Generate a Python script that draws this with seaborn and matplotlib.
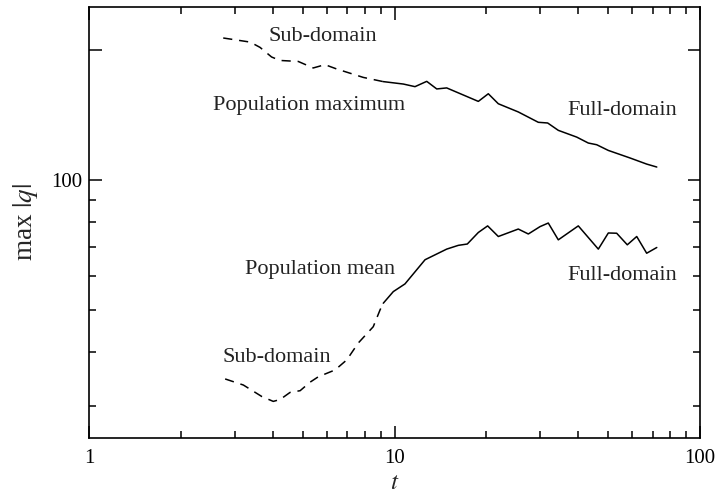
import matplotlib
matplotlib.use("Agg")
import matplotlib.pyplot as plt
from matplotlib.ticker import LogLocator, NullFormatter, FixedLocator, FixedFormatter
import numpy as np
import pandas as pd
import seaborn as sns

# Population maximum of |q|: sub-domain (early) and full-domain (late) runs
max_sub_t = [2.75, 3.37, 3.63, 3.96, 4.22, 4.84, 5.42, 5.92, 6.47, 7.90, 9.17]
max_sub_q = [212.8, 208.2, 202.4, 192.3, 188.8, 187.8, 181.4, 184.6, 180.4, 172.5, 168.7]
max_full_t = [9.17, 10.69, 11.67, 12.75, 13.75, 14.82, 18.81, 20.28, 21.87, 25.42,
              29.56, 31.72, 34.37, 39.49, 43.09, 45.91, 50.11, 59.0, 66.9, 72.2]
max_full_q = [168.7, 166.5, 164.2, 168.9, 162.2, 163.1, 151.8, 158.1, 149.9, 143.5,
              135.8, 135.3, 130.1, 125.5, 121.6, 120.5, 116.9, 112.3, 108.7, 107.0]

# Population mean of |q|
mean_sub_t = [2.79, 3.20, 3.68, 4.01, 4.22, 4.55, 4.91, 5.29, 5.63, 6.39, 6.98,
              7.61, 8.52, 8.97, 9.19]
mean_sub_q = [34.6, 33.5, 31.5, 30.7, 31.0, 32.2, 32.5, 34.0, 35.0, 36.3, 38.3,
              41.9, 45.7, 50.0, 51.8]
mean_full_t = [9.19, 9.91, 10.82, 12.59, 14.82, 16.18, 17.31, 18.81, 20.18, 21.87,
               25.42, 27.42, 29.95, 31.87, 34.37, 39.96, 46.47, 50.11, 53.37, 57.81,
               62.07, 66.9, 72.2]
mean_full_q = [51.8, 55.1, 57.4, 65.3, 69.1, 70.5, 71.0, 75.5, 78.2, 73.9,
               76.9, 74.9, 77.9, 79.4, 72.6, 78.2, 69.1, 75.3, 75.2, 70.7,
               73.9, 67.6, 69.7]

segments = [
    ("max", "sub", max_sub_t, max_sub_q),
    ("max", "full", max_full_t, max_full_q),
    ("mean", "sub", mean_sub_t, mean_sub_q),
    ("mean", "full", mean_full_t, mean_full_q),
]
frames = []
for stat, domain, t, q in segments:
    frames.append(pd.DataFrame({"t": t, "q": q, "stat": stat, "domain": domain}))
df = pd.concat(frames, ignore_index=True)

sns.set_style("ticks")
plt.rcParams["font.family"] = ["Liberation Serif", "DejaVu Serif"]
plt.rcParams["mathtext.fontset"] = "stix"

fig = plt.figure(figsize=(7.19, 4.98), dpi=100)
ax = fig.add_axes([89 / 719, 60.3 / 498, 611 / 719, 430.7 / 498])

for (stat, domain), sub in df.groupby(["stat", "domain"], sort=False):
    sns.lineplot(data=sub, x="t", y="q", ax=ax, color="black", lw=1.1,
                 estimator=None, sort=False,
                 linestyle=(0, (6, 4.5)) if domain == "sub" else "-")

ax.set_xscale("log")
ax.set_yscale("log")
ax.set_xlim(1, 100)
ax.set_ylim(25.3, 251)

ax.xaxis.set_major_locator(FixedLocator([1, 10, 100]))
ax.xaxis.set_major_formatter(FixedFormatter(["1", "10", "100"]))
ax.xaxis.set_minor_locator(LogLocator(base=10, subs=np.arange(2, 10)))
ax.xaxis.set_minor_formatter(NullFormatter())
ax.yaxis.set_major_locator(FixedLocator([100, 200]))
ax.yaxis.set_major_formatter(FixedFormatter(["100", ""]))
ax.yaxis.set_minor_locator(FixedLocator([30, 40, 50, 60, 70, 80, 90]))
ax.yaxis.set_minor_formatter(NullFormatter())

ax.tick_params(which="both", direction="in", top=True, right=True, width=1.1,
               colors="black", labelsize=15)
ax.tick_params(which="major", length=9)
ax.tick_params(which="minor", length=5)
ax.tick_params(axis="x", which="major", pad=8)
ax.tick_params(axis="y", which="major", pad=5)
for s in ax.spines.values():
    s.set_linewidth(1.2)
    s.set_color("black")

ax.set_xlabel("$t$", fontsize=18, labelpad=3)
ax.set_ylabel("max $|q|$", fontsize=19.5, labelpad=8)

txt = dict(fontsize=16, color="#222222", va="center", ha="left")
ax.text(3.88, 214, "Sub-domain", **txt)
ax.text(2.55, 148.6, "Population maximum", **txt)
ax.text(36.7, 144.8, "Full-domain", **txt)
ax.text(3.24, 62, "Population mean", **txt)
ax.text(36.7, 59.9, "Full-domain", **txt)
ax.text(2.73, 38.7, "Sub-domain", **txt)

fig.savefig("out.png", dpi=100)
